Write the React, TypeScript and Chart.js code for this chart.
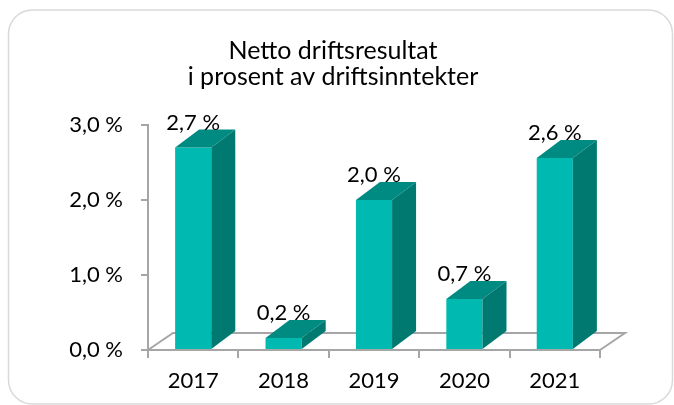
import { useEffect, useRef } from "react";
import { Chart, registerables } from "chart.js";

Chart.register(...registerables);

const categories = ["2017", "2018", "2019", "2020", "2021"];
const values = [2.7, 0.16, 2.0, 0.68, 2.56];
const yTicks = [0, 1, 2, 3];
const titleLines = ["Netto driftsresultat", "i prosent av driftsinntekter"];

const FONT = "Lato";
const FRONT = "#00BAB2";
const TOP = "#008B82";
const SIDE = "#007A71";
const AXIS = "#A6A6A6";

const fmt = (v: number) => v.toFixed(1).replace(".", ",") + " %";

export default function App() {
  const ref = useRef<HTMLCanvasElement>(null);

  useEffect(() => {
    const canvas = ref.current!;
    const barDx = 24;
    const barDy = -18;
    const floorDx = 25;
    const floorDy = -17;

    const plugin = {
      id: "bar3d",
      beforeDraw(chart: any) {
        const ctx = chart.ctx;
        ctx.save();
        ctx.strokeStyle = "#D9D9D9";
        ctx.lineWidth = 1.5;
        ctx.beginPath();
        (ctx as any).roundRect(8.5, 10, 664, 394, 24);
        ctx.stroke();
        ctx.restore();
      },
      beforeDatasetsDraw(chart: any) {
        const ctx = chart.ctx;
        const { left, right } = chart.chartArea;
        const b = chart.scales.y.getPixelForValue(0);
        ctx.save();
        ctx.strokeStyle = AXIS;
        ctx.lineWidth = 2;
        ctx.beginPath();
        ctx.moveTo(left, b);
        ctx.lineTo(left + floorDx, b + floorDy);
        ctx.lineTo(right + floorDx, b + floorDy);
        ctx.lineTo(right, b);
        ctx.stroke();
        ctx.restore();
      },
      afterDatasetsDraw(chart: any) {
        const ctx = chart.ctx;
        const meta = chart.getDatasetMeta(0);
        ctx.save();
        meta.data.forEach((bar: any, i: number) => {
          const { x, y, base, width } = bar.getProps(["x", "y", "base", "width"], true);
          const x0 = x - width / 2;
          const x1 = x + width / 2;
          ctx.fillStyle = TOP;
          ctx.beginPath();
          ctx.moveTo(x0, y);
          ctx.lineTo(x1, y);
          ctx.lineTo(x1 + barDx, y + barDy);
          ctx.lineTo(x0 + barDx, y + barDy);
          ctx.closePath();
          ctx.fill();
          ctx.fillStyle = SIDE;
          ctx.beginPath();
          ctx.moveTo(x1, y);
          ctx.lineTo(x1 + barDx, y + barDy);
          ctx.lineTo(x1 + barDx, base + barDy);
          ctx.lineTo(x1, base);
          ctx.closePath();
          ctx.fill();
          ctx.fillStyle = "#000000";
          ctx.font = `22px ${FONT}`;
          ctx.textAlign = "center";
          ctx.textBaseline = "alphabetic";
          ctx.fillText(fmt(values[i]), x, y - 18);
        });
        ctx.restore();
      },
    };

    const chart = new Chart(canvas, {
      type: "bar",
      data: {
        labels: categories,
        datasets: [
          {
            data: values,
            backgroundColor: FRONT,
            borderWidth: 0,
            barPercentage: 0.4,
            categoryPercentage: 1,
          },
        ],
      },
      options: {
        responsive: false,
        animation: false,
        devicePixelRatio: 1,
        layout: { padding: { left: 66, right: 74, top: 0, bottom: 0 } },
        plugins: {
          legend: { display: false },
          tooltip: { enabled: false },
          title: {
            display: true,
            text: titleLines,
            color: "#000000",
            font: { family: FONT, size: 25, weight: "normal", lineHeight: 1.04 },
            padding: { top: 37.5, bottom: 35.5 },
          },
        },
        scales: {
          x: {
            afterFit: (s: any) => {
              s.height = 55;
            },
            grid: {
              display: true,
              drawOnChartArea: false,
              drawTicks: true,
              tickLength: 8,
              color: AXIS,
              lineWidth: 2,
              offset: true,
            },
            border: { display: true, color: AXIS, width: 2 },
            ticks: {
              color: "#000000",
              font: { family: FONT, size: 22 },
              padding: 10,
            },
          },
          y: {
            min: 0,
            max: 3,
            afterBuildTicks: (s: any) => {
              s.ticks = yTicks.map((v) => ({ value: v }));
            },
            afterFit: (s: any) => {
              s.width = 82;
            },
            grid: {
              display: true,
              drawOnChartArea: false,
              drawTicks: true,
              tickLength: 7,
              color: AXIS,
              lineWidth: 2,
            },
            border: { display: true, color: AXIS, width: 2 },
            ticks: {
              color: "#000000",
              font: { family: FONT, size: 22 },
              padding: 18,
              callback: (v: any) => fmt(Number(v)),
            },
          },
        },
      },
      plugins: [plugin],
    });

    return () => chart.destroy();
  }, []);

  return (
    <div style={{ position: "fixed", left: 0, top: 0, width: 674, height: 405 }}>
      <canvas ref={ref} width={674} height={405} style={{ width: 674, height: 405, display: "block" }} />
    </div>
  );
}
